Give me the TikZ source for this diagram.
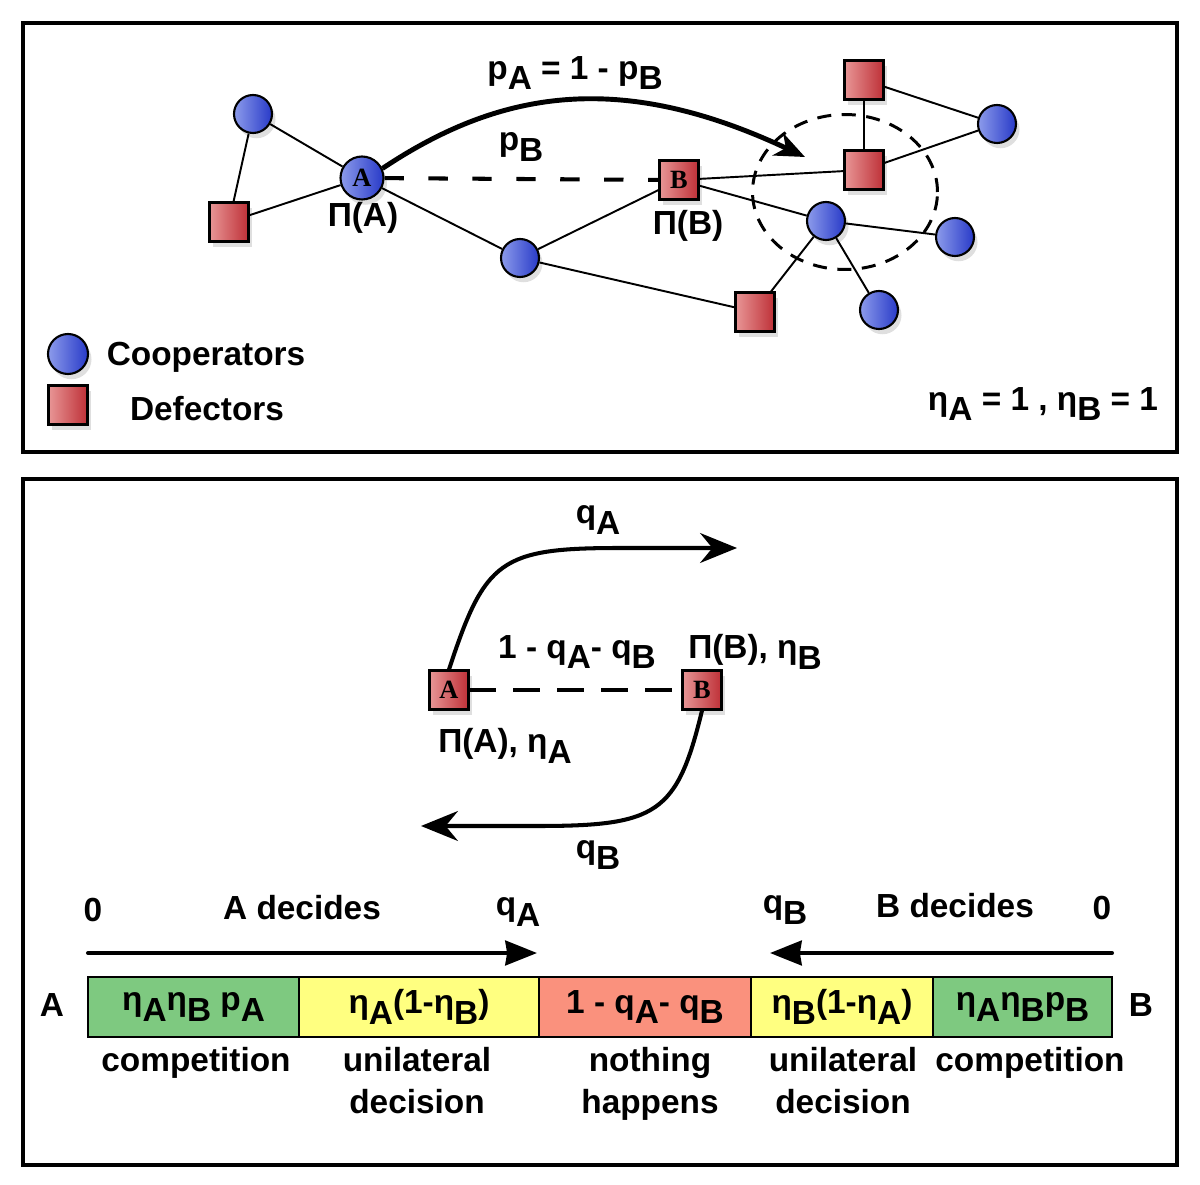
\documentclass[tikz,border=0pt]{standalone}
\usepackage{fontspec}
\setmainfont{Liberation Sans}
\newfontfamily\letterfont{Liberation Serif}
\usetikzlibrary{arrows.meta,shapes,shadows}

\definecolor{coopL}{RGB}{140,155,235}
\definecolor{coopR}{RGB}{40,58,200}
\definecolor{defL}{RGB}{232,150,150}
\definecolor{defR}{RGB}{190,48,55}
\definecolor{barGreen}{RGB}{126,201,128}
\definecolor{barYellow}{RGB}{255,255,128}
\definecolor{barRed}{RGB}{250,145,125}

\newcommand{\lo}[1]{\raisebox{-0.32em}{#1}}

\begin{document}
\begin{tikzpicture}[x=0.02cm,y=-0.02cm,semithick,font=\fontsize{19}{24}\selectfont\bfseries]
        \tikzstyle{coop}=[circle, draw, line width=1.2pt, minimum size=0.76cm, inner sep=0pt,
                left color=coopL, right color=coopR,
                drop shadow={opacity=.25,shadow xshift=2pt,shadow yshift=-3pt}]
        \tikzstyle{defect}=[rectangle, draw, line width=1.2pt, minimum size=0.78cm, inner sep=0pt,
                left color=defL, right color=defR,
                drop shadow={opacity=.25,shadow xshift=2pt,shadow yshift=-3pt}]
        \tikzstyle{who}=[font=\fontsize{15}{15}\letterfont\bfseries]
        \tikzstyle{tie}=[line width=1.1pt]
        \tikzstyle{frame}=[line width=2.3pt]
        \tikzstyle{cell}=[draw, line width=1.1pt]
        \tikzstyle{flow}=[line width=2.3pt, -{Stealth[length=21pt,width=17pt,inset=7pt]}]
        \tikzstyle{bararrow}=[line width=2.3pt, line cap=round, -{Stealth[length=18pt,width=14pt,inset=1pt]}]

        \useasboundingbox (0,0) rectangle (1200,1185);
        \draw[frame] (23,23) rectangle (1177,452);
        \draw[frame] (23,479) rectangle (1177,1165);

        % network
        \node[ellipse, draw, line width=1.7pt, dash pattern=on 8pt off 6pt,
              minimum width=3.7cm, minimum height=3.1cm] (hood) at (845,192) {};
        \node[coop]           (c1) at (253,114) {};
        \node[defect]         (d1) at (229,222) {};
        \node[coop, who, minimum size=0.86cm] (a) at (362,178) {A};
        \node[coop]           (c2) at (520,258) {};
        \node[defect, who]    (b)  at (679,180) {B};
        \node[defect]         (d2) at (755,312) {};
        \node[defect]         (d3) at (864,80)  {};
        \node[defect]         (d4) at (864,170) {};
        \node[coop]           (c3) at (997,124) {};
        \node[coop]           (c4) at (826,221) {};
        \node[coop]           (c5) at (955,237) {};
        \node[coop]           (c6) at (879,310) {};
        \coordinate (tipPA) at (805,157);

        \path[tie] (c1) edge (a)
                        edge (d1)
                   (d1) edge (a)
                   (a)  edge (c2)
                   (c2) edge (b)
                        edge (d2)
                   (b)  edge (d4)
                        edge (c4)
                   (c4) edge (d2)
                        edge (c6)
                        edge (c5)
                   (d3) edge (d4)
                        edge (c3)
                   (d4) edge (c3);
        \draw[line width=2.3pt, dash pattern=on 11pt off 14pt] (a) -- (b);
        \draw[line width=2.8pt, -{Stealth[length=17pt,width=14pt,inset=5pt]}]
              (a.25) .. controls (500,90) and (620,70) .. (tipPA);

        \node (pAlab) at (575,73)  {p\lo{A} = 1 - p\lo{B}};
        \node (pBlab) at (521,147) {p\lo{B}};
        \node (piA)   at (363,218) {Π(A)};
        \node (piB)   at (688,226) {Π(B)};

        % legend
        \node[coop, minimum size=0.8cm] (keyC) at (68,354) {};
        \node[defect]                  (keyD) at (68,405) {};
        \node (keyCtext) at (206,357) {Cooperators};
        \node (keyDtext) at (207,409) {Defectors};
        \node (etas) at (1043,404) {η\lo{A} = 1 , η\lo{B} = 1};

        % two players
        \node[defect, who] (a2) at (449,690) {A};
        \node[defect, who] (b2) at (702,690) {B};
        \coordinate (tipqA) at (737,548);
        \coordinate (tipqB) at (421,826);
        \draw[line width=2.3pt, dash pattern=on 15pt off 10pt] (a2) -- (b2);
        \draw[flow] (a2.north) .. controls (485,560) and (500,548) .. (620,548) -- (tipqA);
        \draw[flow] (b2.south) .. controls (677,814) and (657,826) .. (537,826) -- (tipqB);

        \node (qAlab)   at (598,520) {q\lo{A}};
        \node (qBlab)   at (598,855) {q\lo{B}};
        \node (nothing) at (577,652) {1 - q\lo{A}- q\lo{B}};
        \node (piBeta)  at (755,652) {Π(B), η\lo{B}};
        \node (piAeta)  at (505,746) {Π(A), η\lo{A}};

        % interval
        \coordinate (l0) at (88,953);
        \coordinate (lq) at (537,953);
        \coordinate (r0) at (1112,953);
        \coordinate (rq) at (770,953);
        \draw[bararrow] (l0) -- (lq);
        \draw[bararrow] (r0) -- (rq);

        \node (zeroA) at (93,910)   {0};
        \node (decA)  at (302,908)  {A decides};
        \node (qAend) at (518,912)  {q\lo{A}};
        \node (qBend) at (785,910)  {q\lo{B}};
        \node (decB)  at (955,906)  {B decides};
        \node (zeroB) at (1102,908) {0};

        \draw[cell, fill=barGreen]  (88,977)  rectangle node (s1) {η\lo{A}η\lo{B} p\lo{A}} (299,1037);
        \draw[cell, fill=barYellow] (299,977) rectangle node (s2) {η\lo{A}(1-η\lo{B})} (539,1037);
        \draw[cell, fill=barRed]    (539,977) rectangle node (s3) {1 - q\lo{A}- q\lo{B}} (751,1037);
        \draw[cell, fill=barYellow] (751,977) rectangle node (s4) {η\lo{B}(1-η\lo{A})} (933,1037);
        \draw[cell, fill=barGreen]  (933,977) rectangle node (s5) {η\lo{A}η\lo{B}p\lo{B}} (1112,1037);
        \node (endA) at (52,1005)   {A};
        \node (endB) at (1141,1005) {B};

        \node[anchor=north, inner sep=0pt]               (u1) at (196,1047) {competition};
        \node[anchor=north, inner sep=0pt, align=center] (u2) at (417,1047) {unilateral\\decision};
        \node[anchor=north, inner sep=0pt, align=center] (u3) at (650,1047) {nothing\\happens};
        \node[anchor=north, inner sep=0pt, align=center] (u4) at (843,1047) {unilateral\\decision};
        \node[anchor=north, inner sep=0pt]               (u5) at (1030,1047) {competition};
\end{tikzpicture}
\end{document}
